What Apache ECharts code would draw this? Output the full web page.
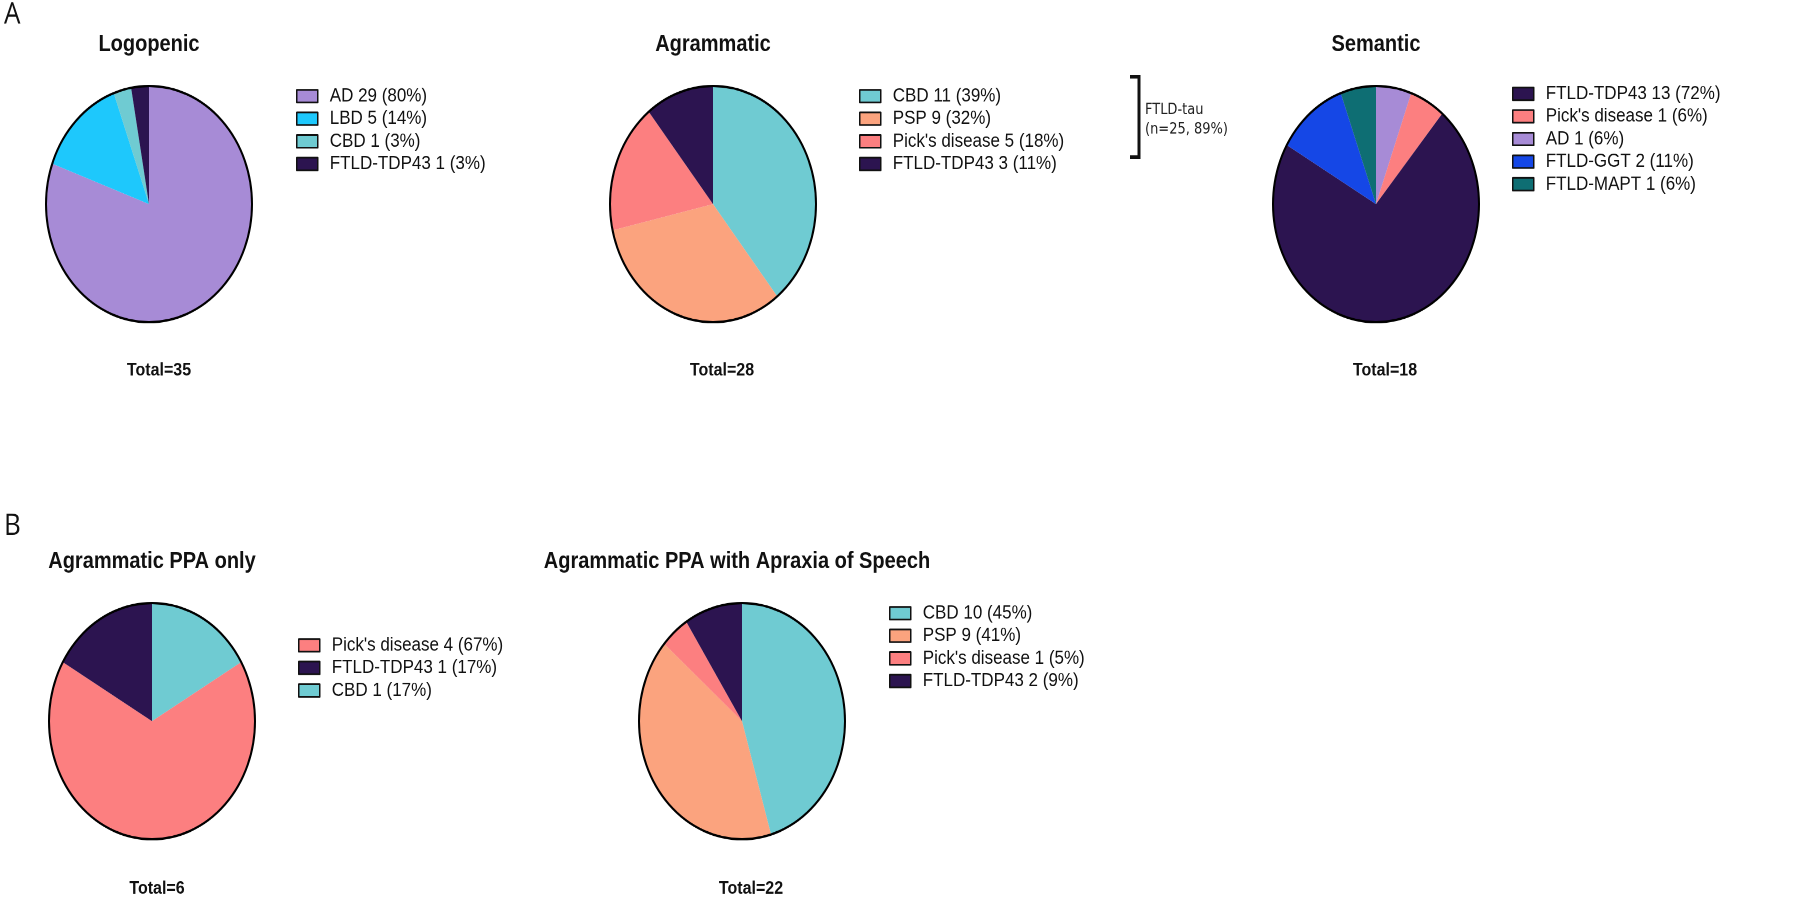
<!DOCTYPE html>
<html>
<head>
<meta charset="utf-8">
<script src="https://cdn.jsdelivr.net/npm/echarts@6/dist/echarts.min.js"></script>
<style>
html,body{margin:0;padding:0;background:#fff;overflow:hidden;width:1800px;height:900px;}
#chart{width:1800px;height:785px;transform:scaleY(1.1465);transform-origin:0 0;}
</style>
</head>
<body>
<div id="chart"></div>
<script>
// ---- Data ----
const logoNames = ['AD', 'LBD', 'CBD', 'FTLD-TDP43'];
const logoCounts = [29, 5, 1, 1];
const logoPct = [80, 14, 3, 3];
const logoLegend = ['AD', 'LBD', 'CBD', 'FTLD-TDP43'];

const agrNames = ['CBD', 'PSP', "Pick's disease", 'FTLD-TDP43'];
const agrCounts = [11, 9, 5, 3];
const agrPct = [39, 32, 18, 11];
const agrLegend = ['CBD', 'PSP', "Pick's disease", 'FTLD-TDP43'];

const semNames = ['AD', "Pick's disease", 'FTLD-TDP43', 'FTLD-GGT', 'FTLD-MAPT'];
const semCounts = [1, 1, 13, 2, 1];
const semPct = [6, 6, 72, 11, 6];
const semLegend = ['FTLD-TDP43', "Pick's disease", 'AD', 'FTLD-GGT', 'FTLD-MAPT'];

const onlyNames = ['CBD', "Pick's disease", 'FTLD-TDP43'];
const onlyCounts = [1, 4, 1];
const onlyPct = [17, 67, 17];
const onlyLegend = ["Pick's disease", 'FTLD-TDP43', 'CBD'];

const aosNames = ['CBD', 'PSP', "Pick's disease", 'FTLD-TDP43'];
const aosCounts = [10, 9, 1, 2];
const aosPct = [45, 41, 5, 9];
const aosLegend = ['CBD', 'PSP', "Pick's disease", 'FTLD-TDP43'];

const titles = ['Logopenic', 'Agrammatic', 'Semantic', 'Agrammatic PPA only', 'Agrammatic PPA with Apraxia of Speech'];
const totals = ['Total=35', 'Total=28', 'Total=18', 'Total=6', 'Total=22'];
const bracketLabel = ['FTLD-tau', '(n=25, 89%)'];

// ---- Styling ----
const colorMap = {
  'AD': '#A78BD6',
  'LBD': '#1EC8FC',
  'CBD': '#6FCBD2',
  'FTLD-TDP43': '#2C1450',
  'PSP': '#FBA37E',
  "Pick's disease": '#FC7F80',
  'FTLD-GGT': '#1547E6',
  'FTLD-MAPT': '#0E6E73'
};
const FONT = "'Liberation Sans', Arial, sans-serif";

const panels = [
  {names: logoNames, counts: logoCounts, pct: logoPct, legend: logoLegend,
   center: [149, 178], titleXY: [149, 39], totalXY: [159, 323], legendXY: [296, 74]},
  {names: agrNames, counts: agrCounts, pct: agrPct, legend: agrLegend,
   center: [713, 178], titleXY: [713, 39], totalXY: [722, 323], legendXY: [859, 74]},
  {names: semNames, counts: semCounts, pct: semPct, legend: semLegend,
   center: [1376, 178], titleXY: [1376, 39], totalXY: [1385, 323], legendXY: [1512, 72]},
  {names: onlyNames, counts: onlyCounts, pct: onlyPct, legend: onlyLegend,
   center: [152, 629], titleXY: [152, 490], totalXY: [157, 775], legendXY: [298, 553]},
  {names: aosNames, counts: aosCounts, pct: aosPct, legend: aosLegend,
   center: [742, 629], titleXY: [737, 490], totalXY: [751, 775], legendXY: [889, 525]}
];
const R = 103;

const series = [];
const legends = [];
const graphics = [];

panels.forEach(function (p, k) {
  series.push({
    type: 'pie',
    center: p.center,
    radius: R,
    startAngle: 90,
    clockwise: true,
    silent: true,
    label: {show: false},
    labelLine: {show: false},
    emphasis: {disabled: true},
    itemStyle: {borderWidth: 0},
    data: p.names.map(function (n, i) {
      return {name: n, value: p.counts[i], itemStyle: {color: colorMap[n]}};
    })
  });
  // outer outline
  series.push({
    type: 'pie',
    center: p.center,
    radius: R,
    silent: true,
    z: 5,
    label: {show: false},
    labelLine: {show: false},
    emphasis: {disabled: true},
    itemStyle: {color: 'rgba(0,0,0,0)', borderColor: '#000', borderWidth: 2},
    data: [{name: '__outline' + k, value: 1}]
  });
  legends.push({
    orient: 'vertical',
    left: p.legendXY[0],
    top: p.legendXY[1],
    padding: 0,
    itemGap: 0,
    itemWidth: 21,
    itemHeight: 11,
    icon: 'rect',
    selectedMode: false,
    itemStyle: {borderColor: '#111', borderWidth: 1.5},
    textStyle: {fontFamily: FONT, fontSize: 17, color: '#111', lineHeight: 19.7, padding: [0, 0, 0, 7]},
    data: p.legend,
    formatter: function (name) {
      const i = p.names.indexOf(name);
      return name + ' ' + p.counts[i] + ' (' + p.pct[i] + '%)';
    }
  });
  graphics.push({
    type: 'text', x: p.titleXY[0], y: p.titleXY[1],
    style: {text: titles[k], font: 'bold 20px ' + FONT, fill: '#111', align: 'center', verticalAlign: 'middle'}
  });
  graphics.push({
    type: 'text', x: p.totalXY[0], y: p.totalXY[1],
    style: {text: totals[k], font: 'bold 16px ' + FONT, fill: '#111', align: 'center', verticalAlign: 'middle'}
  });
});

// panel letters
graphics.push({type: 'text', x: 4, y: 13, style: {text: 'A', font: '26px ' + "'Open Sans', " + FONT, fill: '#111', align: 'left', verticalAlign: 'middle'}});
graphics.push({type: 'text', x: 4, y: 459, style: {text: 'B', font: '26px ' + "'Open Sans', " + FONT, fill: '#111', align: 'left', verticalAlign: 'middle'}});

// bracket for FTLD-tau
graphics.push({
  type: 'polyline',
  shape: {points: [[1130, 67], [1139, 67], [1139, 137], [1130, 137]]},
  style: {stroke: '#111', lineWidth: 3, fill: null}
});
graphics.push({type: 'text', x: 1145, y: 96, style: {text: bracketLabel[0], font: "13px 'DejaVu Sans', sans-serif", fill: '#222', align: 'left', verticalAlign: 'middle'}});
graphics.push({type: 'text', x: 1145, y: 113, style: {text: bracketLabel[1], font: "13px 'DejaVu Sans', sans-serif", fill: '#222', align: 'left', verticalAlign: 'middle'}});

const chart = echarts.init(document.getElementById('chart'), null, {devicePixelRatio: 2});
chart.setOption({
  animation: false,
  backgroundColor: '#fff',
  legend: legends,
  series: series,
  graphic: graphics
});
</script>
</body>
</html>
